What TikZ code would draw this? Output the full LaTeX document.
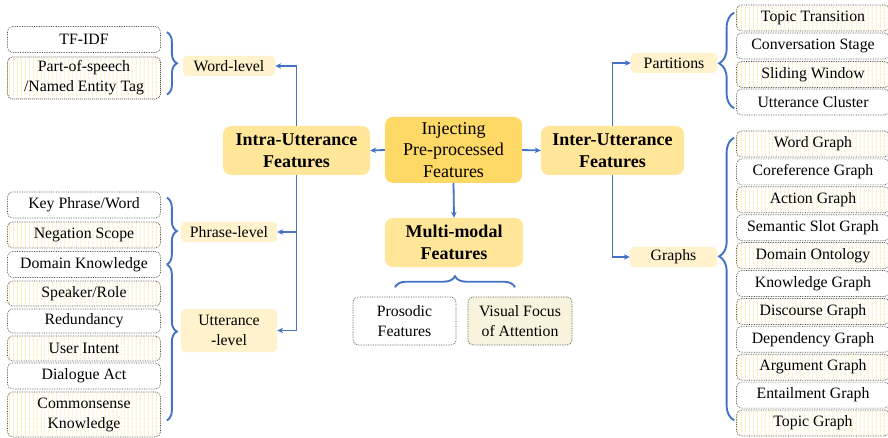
\documentclass[tikz,border=0pt]{standalone}
\usepackage{fontspec}
\setmainfont{Liberation Serif}
\usetikzlibrary{arrows.meta,decorations.pathreplacing,patterns.meta}

\definecolor{linkblue}{HTML}{4472C4}
\definecolor{rootyellow}{HTML}{FFD966}
\definecolor{mainyellow}{HTML}{FFE699}
\definecolor{levelyellow}{HTML}{FFF2CC}
\definecolor{stripeyellow}{HTML}{FFEBBA}
\definecolor{visualfill}{HTML}{F7F3DC}
\definecolor{boxborder}{HTML}{4A4A4A}

\begin{document}
\begin{tikzpicture}[
		x=1pt, y=-1pt,
		>={Stealth[length=6pt,width=5.5pt]},
		every node/.style={inner sep=0pt, align=center},
		box/.style={draw=boxborder, densely dotted, line width=0.7pt, rounded corners=5pt, minimum width=153pt, minimum height=26pt, font=\fontsize{15.8}{20}\selectfont},
		plain/.style={box, fill=white},
		striped/.style={box, pattern={Lines[angle=90,distance=4pt,line width=1pt]}, pattern color=stripeyellow},
		root/.style={fill=rootyellow, rounded corners=8pt, minimum width=137pt, minimum height=66pt, font=\fontsize{18}{21.5}\selectfont},
		branch/.style={fill=mainyellow, rounded corners=8pt, minimum height=49pt, font=\bfseries\fontsize{18}{22}\selectfont},
		level/.style={fill=levelyellow, rounded corners=4pt, minimum height=20pt, font=\fontsize{15.8}{20}\selectfont},
		arr/.style={->, draw=linkblue, line width=1.8pt},
		curly/.style={draw=linkblue, line width=1.9pt, decorate, decoration={brace, amplitude=#1}},
		curly/.default=10pt
	]
		\useasboundingbox (0,0) rectangle (888,438);

		% Centre and branches
		\node[root] (inject) at (453.5,150) {Injecting\\Pre-processed\\Features};
		\node[branch, minimum width=147pt] (intra) at (296.5,150.5) {Intra-Utterance\\Features};
		\node[branch, minimum width=143pt] (inter) at (612.5,150.5) {Inter-Utterance\\Features};
		\node[branch, minimum width=138pt] (multi) at (454,242.5) {Multi-modal\\Features};

		% Levels
		\node[level, minimum width=92pt] (wordlvl) at (229,66) {Word-level};
		\node[level, minimum width=96pt] (phraselvl) at (229,232) {Phrase-level};
		\node[level, minimum width=96pt, minimum height=43pt] (uttlvl) at (229,330.5) {Utterance\\-level};
		\node[level, minimum width=86pt] (parts) at (674,63) {Partitions};
		\node[level, minimum width=87pt] (graphs) at (673.5,257) {Graphs};

		% Intra-utterance leaves
		\node[plain] (tfidf) at (84,39.5) {TF-IDF};
		\node[striped, minimum height=42pt] (pos) at (84,78) {Part-of-speech\\/Named Entity Tag};
		\node[plain] (keyphr) at (84,205) {Key Phrase/Word};
		\node[striped] (negation) at (84,235) {Negation Scope};
		\node[plain] (domain) at (84,264.5) {Domain Knowledge};
		\node[striped, minimum height=25pt] (speaker) at (84,293.5) {Speaker/Role};
		\node[plain, minimum height=24pt] (redund) at (84,321) {Redundancy};
		\node[striped, minimum height=25pt] (intent) at (84,348.5) {User Intent};
		\node[plain] (dialact) at (84,376) {Dialogue Act};
		\node[striped, minimum height=45pt] (commons) at (84,414.5) {Commonsense\\Knowledge};

		% Multi-modal leaves
		\node[plain, minimum width=103pt, minimum height=48pt] (prosodic) at (404.5,321) {Prosodic\\Features};
		\node[box, fill=visualfill, minimum width=104pt, minimum height=48pt] (visual) at (520,321) {Visual Focus\\of Attention};

		% Inter-utterance leaves
		\node[striped] (topictr) at (813,18) {Topic Transition};
		\node[plain] (convstage) at (813,46) {Conversation Stage};
		\node[striped] (sliding) at (813,74.5) {Sliding Window};
		\node[plain] (uttclust) at (813,102) {Utterance Cluster};

		\node[striped] (wordg) at (813,144) {Word Graph};
		\node[plain] (corefg) at (813,171.9) {Coreference Graph};
		\node[striped] (actiong) at (813,199.8) {Action Graph};
		\node[plain] (slotg) at (813,227.7) {Semantic Slot Graph};
		\node[striped] (ontology) at (813,255.6) {Domain Ontology};
		\node[plain] (knowg) at (813,283.5) {Knowledge Graph};
		\node[striped] (discg) at (813,311.4) {Discourse Graph};
		\node[plain] (depg) at (813,339.3) {Dependency Graph};
		\node[striped] (argg) at (813,367.2) {Argument Graph};
		\node[plain] (entg) at (813,395.1) {Entailment Graph};
		\node[striped] (topicg) at (813,423) {Topic Graph};

		% Arrows
		\draw[arr] (inject.west) -- (intra.east);
		\draw[arr] (inject.east) -- (inter.west);
		\draw[arr] (inject.south) -- (multi.north);
		\draw[arr] (intra.north) |- (wordlvl.east);
		\draw[arr] (intra.south) |- (phraselvl.east);
		\draw[arr] (intra.south) |- (uttlvl.east);
		\draw[arr] (inter.north) |- (parts.west);
		\draw[arr] (inter.south) |- (graphs.west);

		% Braces
		\draw[curly, decoration={aspect=0.5}] ([xshift=6pt,yshift=-6pt]tfidf.north east) -- ([xshift=6pt,yshift=5pt]pos.south east);
		\draw[curly, decoration={aspect=0.5}] ([xshift=6pt,yshift=-6pt]keyphr.north east) -- ([xshift=6pt]domain.east);
		\draw[curly, decoration={aspect=0.43}] ([xshift=6pt]domain.east) -- ([xshift=6pt,yshift=17pt]commons.south east);
		\draw[curly=11pt, decoration={aspect=0.5}] ([xshift=-59pt,yshift=-20pt]multi.south) -- ([xshift=61pt,yshift=-20pt]multi.south);
		\draw[curly=15pt, decoration={aspect=0.47}] ([xshift=-2pt,yshift=7pt]uttclust.south west) -- ([xshift=-2pt,yshift=-8pt]topictr.north west);
		\draw[curly=15pt, decoration={aspect=0.58}] ([xshift=-2pt,yshift=16pt]topicg.south west) -- ([xshift=-2pt,yshift=-7pt]wordg.north west);
	\end{tikzpicture}
\end{document}
